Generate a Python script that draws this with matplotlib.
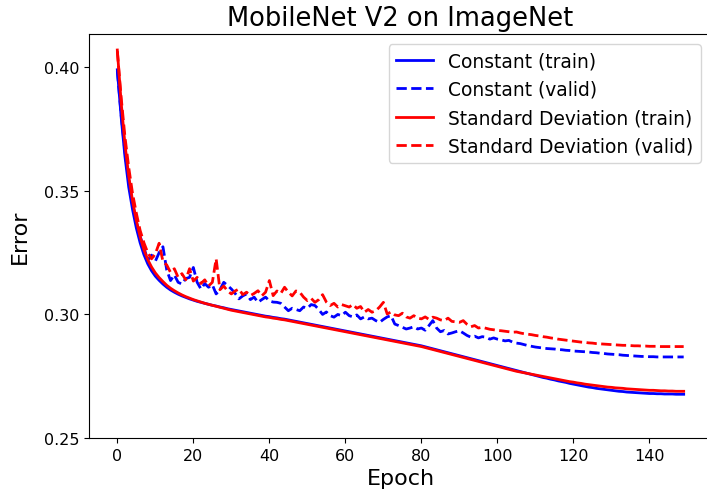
import numpy as np
import matplotlib
matplotlib.use("Agg")
import matplotlib.pyplot as plt

# error per epoch
const_train = [
    0.3990, 0.3800, 0.3640, 0.3515, 0.3425, 0.3350, 0.3290, 0.3242, 0.3205, 0.3177,
    0.3155, 0.3138, 0.3123, 0.3110, 0.3099, 0.3090, 0.3082, 0.3075, 0.3069, 0.3063,
    0.3058, 0.3053, 0.3049, 0.3045, 0.3041, 0.3037, 0.3034, 0.3030, 0.3027, 0.3023,
    0.3020, 0.3017, 0.3014, 0.3011, 0.3008, 0.3005, 0.3002, 0.2999, 0.2996, 0.2993,
    0.2991, 0.2988, 0.2986, 0.2983, 0.2981, 0.2978, 0.2975, 0.2972, 0.2969, 0.2966,
    0.2963, 0.2960, 0.2957, 0.2954, 0.2951, 0.2948, 0.2945, 0.2942, 0.2939, 0.2936,
    0.2933, 0.2930, 0.2927, 0.2924, 0.2921, 0.2918, 0.2915, 0.2912, 0.2909, 0.2906,
    0.2903, 0.2900, 0.2897, 0.2894, 0.2891, 0.2888, 0.2885, 0.2882, 0.2879, 0.2876,
    0.2873, 0.2869, 0.2865, 0.2861, 0.2857, 0.2853, 0.2849, 0.2845, 0.2841, 0.2837,
    0.2833, 0.2829, 0.2825, 0.2821, 0.2817, 0.2813, 0.2809, 0.2805, 0.2801, 0.2797,
    0.2793, 0.2789, 0.2785, 0.2781, 0.2777, 0.2773, 0.2769, 0.2765, 0.2761, 0.2757,
    0.2753, 0.2749, 0.2745, 0.2742, 0.2738, 0.2735, 0.2731, 0.2728, 0.2725, 0.2721,
    0.2718, 0.2715, 0.2712, 0.2709, 0.2706, 0.2704, 0.2701, 0.2699, 0.2697, 0.2695,
    0.2693, 0.2691, 0.2689, 0.2688, 0.2686, 0.2685, 0.2684, 0.2683, 0.2682, 0.2681,
    0.2680, 0.2680, 0.2679, 0.2679, 0.2678, 0.2678, 0.2678, 0.2677, 0.2677, 0.2677,
]
const_valid = [
    0.3985, 0.3810, 0.3660, 0.3545, 0.3450, 0.3375, 0.3316, 0.3270, 0.3220, 0.3240,
    0.3215, 0.3250, 0.3274, 0.3180, 0.3137, 0.3160, 0.3130, 0.3123, 0.3145, 0.3150,
    0.3190, 0.3130, 0.3103, 0.3125, 0.3110, 0.3120, 0.3083, 0.3100, 0.3130, 0.3117,
    0.3103, 0.3085, 0.3063, 0.3075, 0.3083, 0.3060, 0.3070, 0.3049, 0.3060, 0.3070,
    0.3055, 0.3050, 0.3049, 0.3045, 0.3030, 0.3015, 0.3025, 0.3020, 0.3015, 0.3030,
    0.3025, 0.3040, 0.3036, 0.3020, 0.3000, 0.3010, 0.2995, 0.2989, 0.3000, 0.2995,
    0.3009, 0.2995, 0.2990, 0.2998, 0.2982, 0.2990, 0.2982, 0.2985, 0.2975, 0.2968,
    0.2980, 0.2990, 0.2995, 0.2961, 0.2955, 0.2948, 0.2941, 0.2945, 0.2950, 0.2941,
    0.2945, 0.2936, 0.2955, 0.2975, 0.2945, 0.2930, 0.2935, 0.2921, 0.2925, 0.2930,
    0.2934, 0.2925, 0.2915, 0.2908, 0.2912, 0.2905, 0.2910, 0.2908, 0.2900, 0.2905,
    0.2900, 0.2897, 0.2893, 0.2895, 0.2888, 0.2884, 0.2882, 0.2878, 0.2874, 0.2871,
    0.2868, 0.2866, 0.2864, 0.2862, 0.2861, 0.2860, 0.2858, 0.2857, 0.2855, 0.2854,
    0.2852, 0.2851, 0.2850, 0.2849, 0.2848, 0.2846, 0.2845, 0.2843, 0.2842, 0.2840,
    0.2839, 0.2838, 0.2837, 0.2835, 0.2834, 0.2833, 0.2832, 0.2831, 0.2830, 0.2830,
    0.2829, 0.2829, 0.2828, 0.2828, 0.2828, 0.2828, 0.2828, 0.2828, 0.2828, 0.2828,
]
std_train = [
    0.4070, 0.3860, 0.3690, 0.3560, 0.3460, 0.3380, 0.3315, 0.3262, 0.3222, 0.3192,
    0.3168, 0.3149, 0.3133, 0.3118, 0.3106, 0.3096, 0.3087, 0.3079, 0.3072, 0.3066,
    0.3060, 0.3055, 0.3050, 0.3045, 0.3041, 0.3037, 0.3033, 0.3029, 0.3025, 0.3021,
    0.3017, 0.3014, 0.3011, 0.3008, 0.3005, 0.3002, 0.2999, 0.2996, 0.2993, 0.2990,
    0.2988, 0.2985, 0.2983, 0.2980, 0.2978, 0.2975, 0.2972, 0.2969, 0.2966, 0.2963,
    0.2960, 0.2957, 0.2954, 0.2951, 0.2948, 0.2945, 0.2942, 0.2939, 0.2936, 0.2933,
    0.2930, 0.2927, 0.2924, 0.2921, 0.2918, 0.2915, 0.2912, 0.2909, 0.2906, 0.2903,
    0.2900, 0.2897, 0.2894, 0.2891, 0.2888, 0.2885, 0.2882, 0.2879, 0.2876, 0.2873,
    0.2870, 0.2866, 0.2862, 0.2858, 0.2854, 0.2850, 0.2846, 0.2842, 0.2838, 0.2834,
    0.2830, 0.2826, 0.2822, 0.2818, 0.2814, 0.2810, 0.2806, 0.2802, 0.2798, 0.2794,
    0.2790, 0.2786, 0.2782, 0.2778, 0.2774, 0.2770, 0.2767, 0.2764, 0.2761, 0.2758,
    0.2755, 0.2752, 0.2749, 0.2746, 0.2743, 0.2740, 0.2737, 0.2734, 0.2731, 0.2728,
    0.2726, 0.2723, 0.2721, 0.2718, 0.2716, 0.2714, 0.2712, 0.2710, 0.2708, 0.2706,
    0.2705, 0.2703, 0.2702, 0.2701, 0.2699, 0.2698, 0.2697, 0.2696, 0.2695, 0.2694,
    0.2693, 0.2693, 0.2692, 0.2691, 0.2691, 0.2690, 0.2690, 0.2689, 0.2689, 0.2689,
]
std_valid = [
    0.4065, 0.3880, 0.3720, 0.3595, 0.3490, 0.3410, 0.3340, 0.3290, 0.3250, 0.3225,
    0.3245, 0.3288, 0.3215, 0.3200, 0.3170, 0.3185, 0.3150, 0.3165, 0.3140, 0.3185,
    0.3135, 0.3150, 0.3125, 0.3140, 0.3115, 0.3130, 0.3225, 0.3100, 0.3115, 0.3095,
    0.3083, 0.3095, 0.3103, 0.3080, 0.3090, 0.3076, 0.3085, 0.3096, 0.3075, 0.3090,
    0.3137, 0.3076, 0.3095, 0.3085, 0.3110, 0.3090, 0.3075, 0.3095, 0.3090, 0.3070,
    0.3056, 0.3065, 0.3049, 0.3060, 0.3080, 0.3050, 0.3036, 0.3045, 0.3030, 0.3040,
    0.3035, 0.3030, 0.3040, 0.3025, 0.3032, 0.3009, 0.3020, 0.3009, 0.3015, 0.3030,
    0.3049, 0.3002, 0.3010, 0.2998, 0.2995, 0.3005, 0.2990, 0.2985, 0.2995, 0.2985,
    0.2982, 0.2990, 0.2980, 0.2989, 0.2985, 0.2978, 0.2975, 0.2985, 0.2972, 0.2970,
    0.2968, 0.2975, 0.2960, 0.2950, 0.2955, 0.2945, 0.2948, 0.2944, 0.2940, 0.2938,
    0.2935, 0.2934, 0.2932, 0.2930, 0.2928, 0.2929, 0.2925, 0.2922, 0.2920, 0.2918,
    0.2915, 0.2913, 0.2910, 0.2908, 0.2905, 0.2903, 0.2900, 0.2898, 0.2896, 0.2894,
    0.2892, 0.2890, 0.2888, 0.2887, 0.2885, 0.2884, 0.2882, 0.2881, 0.2880, 0.2879,
    0.2878, 0.2877, 0.2876, 0.2875, 0.2875, 0.2874, 0.2873, 0.2873, 0.2872, 0.2872,
    0.2871, 0.2871, 0.2871, 0.2870, 0.2870, 0.2870, 0.2870, 0.2870, 0.2870, 0.2870,
]
epochs = np.arange(len(std_train))

fig = plt.figure(figsize=(7.07, 5.02), dpi=100)
# axes runs a bit past the right edge, like the cropped original
ax = fig.add_axes([89 / 707, 63 / 502, 623 / 707, 404.3 / 502])

lw = 2
ax.plot(epochs, const_train, "b-", lw=lw, label="Constant (train)")
ax.plot(epochs, const_valid, "b--", lw=lw, label="Constant (valid)")
ax.plot(epochs, std_train, "r-", lw=lw, label="Standard Deviation (train)")
ax.plot(epochs, std_valid, "r--", lw=lw, label="Standard Deviation (valid)")

ax.set_xlim(-7.45, 156.45)
ax.set_ylim(0.25, 0.4136)
ax.set_xticks(np.arange(0, 141, 20))
ax.set_yticks([0.25, 0.30, 0.35, 0.40])
ax.tick_params(labelsize=11.5)

ax.set_title("MobileNet V2 on ImageNet", fontsize=18.5)
ax.set_xlabel("Epoch", fontsize=16)
ax.set_ylabel("Error", fontsize=16, labelpad=10)

ax.legend(loc="upper right", bbox_to_anchor=(701 / 707, 1 - 45 / 502),
          bbox_transform=fig.transFigure, borderaxespad=0, fontsize=13.4)

fig.savefig("out.png", dpi=100)
